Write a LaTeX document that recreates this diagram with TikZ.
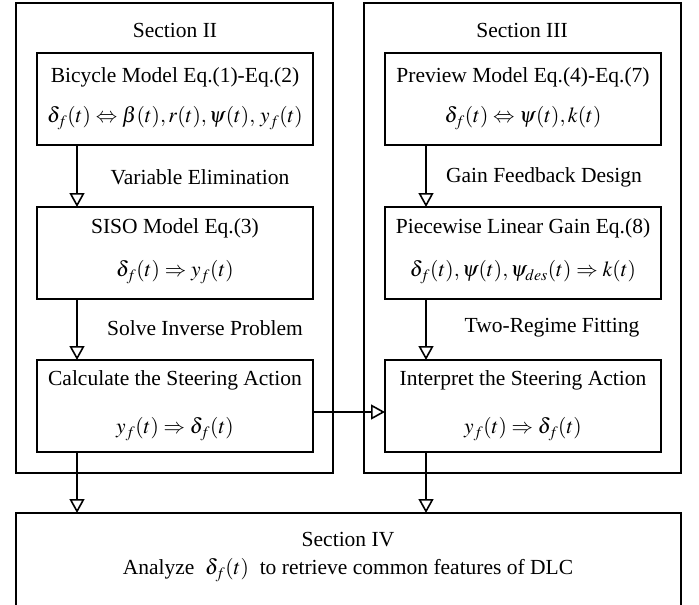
\documentclass[tikz,border=0pt]{standalone}
\usepackage{mathptmx}
\usepackage[no-math]{fontspec}
\setmainfont{Liberation Serif}
\usetikzlibrary{arrows.meta}
\tikzset{
  outerbox/.style={draw, line width=1.3pt, anchor=north west, inner sep=0pt, outer sep=0pt, minimum width=317pt, minimum height=470pt},
  innerbox/.style={draw, line width=1.3pt, anchor=north west, inner sep=0pt, outer sep=0pt, minimum width=276pt, minimum height=92pt},
  flow/.style={line width=2.2pt, -{Triangle[open, length=14pt, width=15pt, line width=1.6pt]}},
  lbl/.style={inner sep=0pt, anchor=center}
}
\begin{document}
\begin{tikzpicture}[x=1pt, y=-1pt, font=\fontsize{21.5}{25}\selectfont]
\useasboundingbox (0,0) rectangle (699,605);
\clip (0,0) rectangle (699,605);
% outer sections
\node[outerbox] (s2) at (16,3) {};
\node[outerbox] (s3) at (364,3) {};
\node[lbl] (t2) at (175,30) {Section II};
\node[lbl] (t3) at (522,30) {Section III};
% left column
\node[innerbox] (a1) at (37,53) {};
\node[innerbox] (a2) at (37,207) {};
\node[innerbox] (a3) at (37,360) {};
\node[lbl] (a1t) at ([yshift=-24pt]a1.north) {Bicycle Model Eq.(1)-Eq.(2)};
\node[lbl] (a1f) at ([yshift=-65pt]a1.north) {$\delta_f(t)\Leftrightarrow \beta(t),r(t),\psi(t),\,y_f(t)$};
\node[lbl] (a2t) at ([yshift=-21pt]a2.north) {SISO Model Eq.(3)};
\node[lbl] (a2f) at ([yshift=-65pt]a2.north) {$\delta_f(t)\Rightarrow y_f(t)$};
\node[lbl] (a3t) at ([yshift=-20pt]a3.north) {Calculate the Steering Action};
\node[lbl] (a3f) at ([yshift=-69pt]a3.north) {$y_f(t)\Rightarrow \delta_f(t)$};
% right column
\node[innerbox] (b1) at (385,53) {};
\node[innerbox] (b2) at (385,207) {};
\node[innerbox] (b3) at (385,360) {};
\node[lbl] (b1t) at ([yshift=-24pt]b1.north) {Preview Model Eq.(4)-Eq.(7)};
\node[lbl] (b1f) at ([yshift=-65pt]b1.north) {$\delta_f(t)\Leftrightarrow \psi(t),k(t)$};
\node[lbl] (b2t) at ([yshift=-21pt]b2.north) {Piecewise Linear Gain Eq.(8)};
\node[lbl] (b2f) at ([yshift=-65pt]b2.north) {$\delta_f(t),\psi(t),\psi_{des}(t)\Rightarrow k(t)$};
\node[lbl] (b3t) at ([yshift=-20pt]b3.north) {Interpret the Steering Action};
\node[lbl] (b3f) at ([yshift=-69pt]b3.north) {$y_f(t)\Rightarrow \delta_f(t)$};
% arrow labels
\node[lbl] (l1) at (200,177) {Variable Elimination};
\node[lbl] (l2) at (205,328) {Solve Inverse Problem};
\node[lbl] (l3) at (544,177) {Gain Feedback Design};
\node[lbl] (l4) at (552,328) {Two-Regime Fitting};
% section IV
\node[draw, line width=1.3pt, anchor=north west, inner sep=0pt, outer sep=0pt, minimum width=665pt, minimum height=110pt] (s4) at (16,513) {};
\node[lbl] (s4t) at (348,540) {Section IV};
\node[lbl] (s4f) at (348,570) {Analyze\ \ $\delta_f(t)$\ \ to retrieve common features of DLC};
% connectors
\draw[flow] ([xshift=40pt]a1.south west) -- ([xshift=40pt]a2.north west);
\draw[flow] ([xshift=40pt]a2.south west) -- ([xshift=40pt]a3.north west);
\draw[flow] ([xshift=41pt]b1.south west) -- ([xshift=41pt]b2.north west);
\draw[flow] ([xshift=41pt]b2.south west) -- ([xshift=41pt]b3.north west);
\draw[flow] ([yshift=-6pt]a3.east) -- ([yshift=-6pt]b3.west);
\draw[flow] ([xshift=40pt]a3.south west) -- ([xshift=40pt]a3.south west |- s4.north);
\draw[flow] ([xshift=41pt]b3.south west) -- ([xshift=41pt]b3.south west |- s4.north);
\end{tikzpicture}
\end{document}
